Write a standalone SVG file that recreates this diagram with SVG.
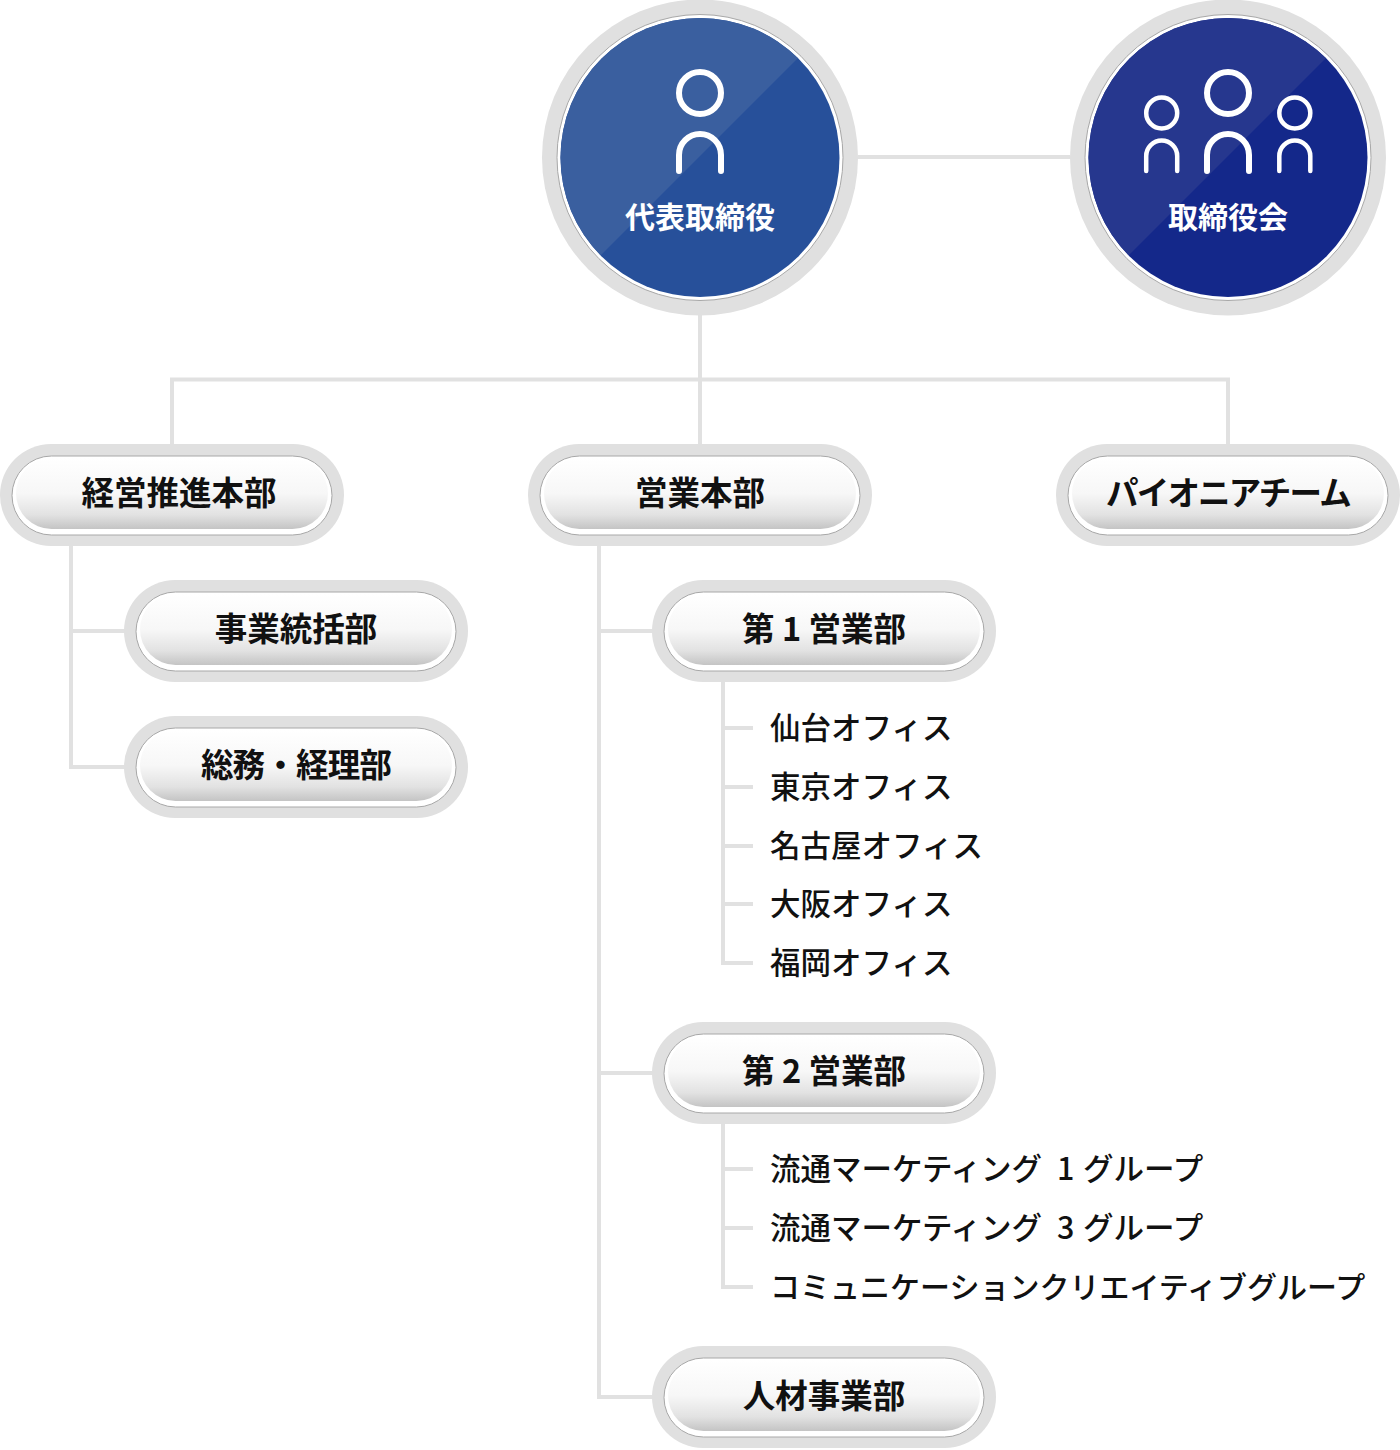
<svg xmlns="http://www.w3.org/2000/svg" width="1400" height="1450" viewBox="0 0 1400 1450">
<style>
.c{fill:none;stroke:#e1e1e1;stroke-width:4}
.o{fill:#e0e0e0}
.b{fill:#fff;stroke:#a8a8a8;stroke-width:1}
.g{fill:url(#pg)}
text{font-family:"Noto Sans CJK JP","Noto Sans",sans-serif;fill:#111}
.p{font-size:32.500px;font-weight:700;text-anchor:middle}
.l{font-size:30.500px;font-weight:500}
.w{font-size:30px;font-weight:700;fill:#fff;text-anchor:middle}
.i{fill:none;stroke:#fff;stroke-linecap:round}
</style>
<defs>
<linearGradient id="pg" x1="0" y1="0" x2="0" y2="1"><stop offset="0" stop-color="#fff"/><stop offset=".5" stop-color="#f7f7f7"/><stop offset=".8" stop-color="#e2e2e2"/><stop offset="1" stop-color="#c4c4c4"/></linearGradient>
<g id="pill">
<rect class="o" x="0" y="0" width="344" height="102" rx="51"/>
<rect class="b" x="12" y="12" width="320" height="79" rx="39.500"/>
<rect class="g" x="16" y="14" width="312" height="71" rx="35.500"/>
</g>
<clipPath id="c1"><circle cx="700" cy="157.500" r="139.500"/></clipPath>
<clipPath id="c2"><circle cx="1228" cy="157.500" r="139.500"/></clipPath>
</defs>
<g id="connectors">
<path class="c" d="M858 157H1070M700 315V444M172 444V379.500H1228V444"/>
<path class="c" d="M71 546V767H125M71 631H125"/>
<path class="c" d="M599 546V1397H653M599 631H653M599 1073H653"/>
<path class="c" d="M723 682V963H753M723 728H753M723 787H753M723 846H753M723 904H753"/>
<path class="c" d="M723 1124V1287H753M723 1169H753M723 1228H753"/>
</g>
<g id="n-ceo">
<circle class="o" cx="700" cy="157.500" r="158"/>
<circle cx="700" cy="157.500" r="143" fill="#fff" stroke="#a8a8a8"/>
<circle cx="700" cy="157.500" r="139.500" fill="#27509a"/>
<path clip-path="url(#c1)" d="M540 0H856L540 316Z" fill="#3a5f9f"/>
<circle class="i" cx="700" cy="93" r="21" stroke-width="6"/>
<path class="i" d="M679 171V155a21 21 0 0 1 42 0V171" stroke-width="6"/>
<text class="w" x="700" y="228">代表取締役</text>
</g>
<g id="n-board">
<circle class="o" cx="1228" cy="157.500" r="158"/>
<circle cx="1228" cy="157.500" r="143" fill="#fff" stroke="#a8a8a8"/>
<circle cx="1228" cy="157.500" r="139.500" fill="#14288a"/>
<path clip-path="url(#c2)" d="M1068 0H1384L1068 316Z" fill="#26378e"/>
<circle class="i" cx="1228" cy="93" r="21" stroke-width="6"/>
<path class="i" d="M1207 171V155a21 21 0 0 1 42 0V171" stroke-width="6"/>
<circle class="i" cx="1161.700" cy="113" r="15.500" stroke-width="4.500"/>
<path class="i" d="M1146.200 171V156a15.500 15.500 0 0 1 31 0V171" stroke-width="4.500"/>
<circle class="i" cx="1294.800" cy="113" r="15.500" stroke-width="4.500"/>
<path class="i" d="M1279.300 171V156a15.500 15.500 0 0 1 31 0V171" stroke-width="4.500"/>
<text class="w" x="1228" y="228">取締役会</text>
</g>
<g id="n-keiei"><use href="#pill" x="0" y="444"/><text class="p" x="179" y="505">経営推進本部</text></g>
<g id="n-eigyo"><use href="#pill" x="528" y="444"/><text class="p" x="700" y="505">営業本部</text></g>
<g id="n-pioneer"><use href="#pill" x="1056" y="444"/><text class="p" x="1228" y="505" letter-spacing="-1.800">パイオニアチーム</text></g>
<g id="n-jigyo"><use href="#pill" x="124" y="580"/><text class="p" x="296" y="641">事業統括部</text></g>
<g id="n-somu"><use href="#pill" x="124" y="716"/><text class="p" x="296" y="777" letter-spacing="-.8">総務・経理部</text></g>
<g id="n-e1"><use href="#pill" x="652" y="580"/><text class="p" x="824" y="641">第 1 営業部</text></g>
<g id="n-e2"><use href="#pill" x="652" y="1022"/><text class="p" x="824" y="1083">第 2 営業部</text></g>
<g id="n-jinzai"><use href="#pill" x="652" y="1346"/><text class="p" x="824" y="1408">人材事業部</text></g>
<g id="n-offices">
<text class="l" x="770" y="739">仙台オフィス</text>
<text class="l" x="770" y="798">東京オフィス</text>
<text class="l" x="770" y="857">名古屋オフィス</text>
<text class="l" x="770" y="915">大阪オフィス</text>
<text class="l" x="770" y="974">福岡オフィス</text>
</g>
<g id="n-groups">
<text class="l" x="770" y="1180">流通マーケティング <tspan x="1057">1</tspan> <tspan x="1083">グループ</tspan></text>
<text class="l" x="770" y="1239">流通マーケティング <tspan x="1057">3</tspan> <tspan x="1083">グループ</tspan></text>
<text class="l" x="770" y="1298" style="font-size:30px">コミュニケーションクリエイティブグループ</text>
</g>
</svg>
